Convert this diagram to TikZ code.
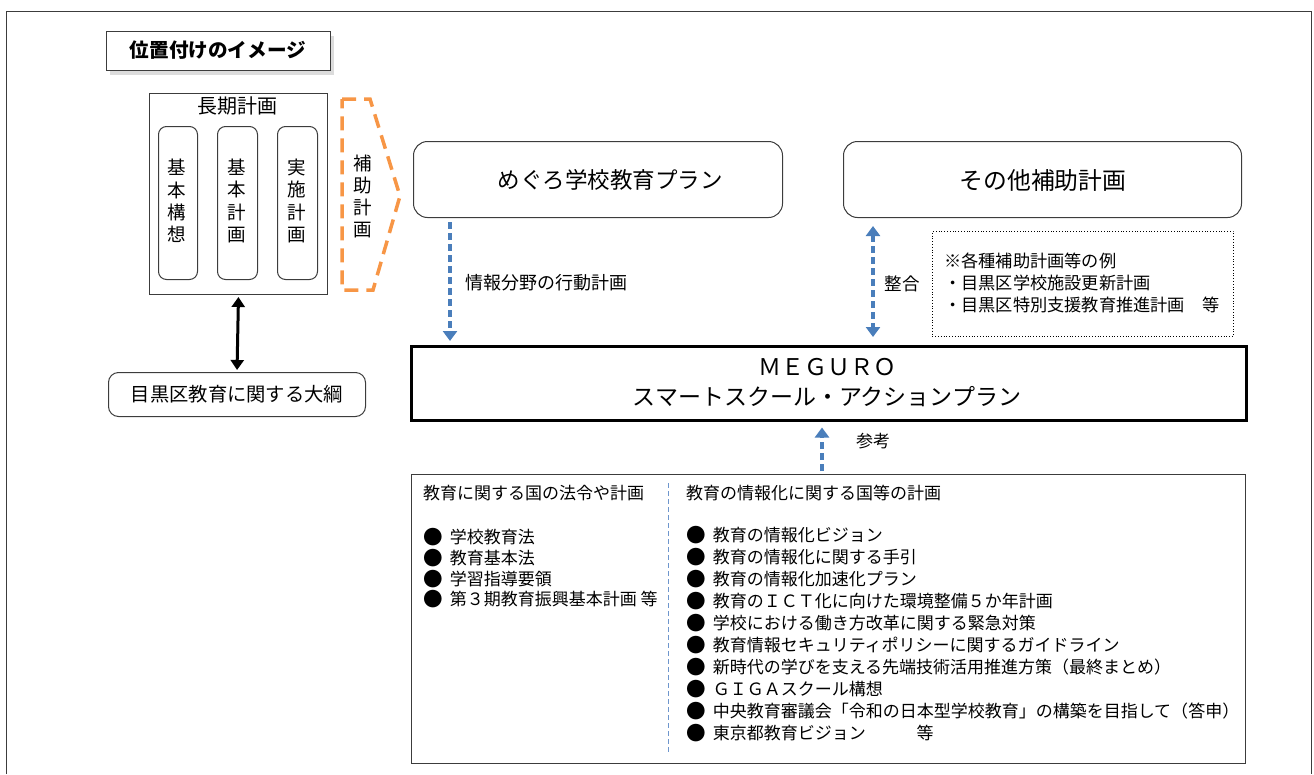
\documentclass[tikz,border=0pt]{standalone}
\usepackage{fontspec}
\setmainfont{Noto Sans CJK JP}
\usetikzlibrary{arrows.meta,shadows}
\definecolor{ablue}{RGB}{74,126,187}
\definecolor{lblue}{RGB}{110,150,205}
\definecolor{borange}{RGB}{247,150,70}
\definecolor{framec}{RGB}{60,60,60}
\newcommand{\fsz}[2]{\fontsize{#1}{#2}\selectfont}
\newcommand{\blt}{\raisebox{-0.9pt}{\scalebox{1.15}{●}}}
\begin{document}
\begin{tikzpicture}[x=1pt,y=-1pt,
  box/.style={draw=framec, line width=1pt, inner sep=0pt, anchor=north west},
  rbox/.style={box, rounded corners=12pt},
  txt/.style={inner sep=0pt},
  barrow/.style={ablue, line width=4pt, dash pattern=on 7pt off 4pt},
  btip/.style={-{Triangle[width=14pt,length=10pt]}},
  bbtip/.style={{Triangle[width=14pt,length=10pt]}-{Triangle[width=14pt,length=10pt]}},
  item/.style={txt, anchor=west, font=\fsz{17}{20}},
]
\useasboundingbox (0,0) rectangle (1314,774);
% outer frame
\draw[framec, line width=1pt] (6,774) -- (6,11) -- (1311,11) -- (1311,774);

% title
\node[box, minimum width=224pt, minimum height=39pt, fill=white,
  drop shadow={shadow xshift=3pt, shadow yshift=-4pt, fill=gray!55}] (title) at (106,31) {};
\node[txt, font=\fsz{19.6}{22}\bfseries] (titlet) at (218,50) {位置付けのイメージ};

% long-term plan
\node[box, minimum width=178pt, minimum height=201pt] (long) at (149,93) {};
\node[txt, font=\fsz{20}{22}] (longt) at (237,106) {長期計画};
\node[rbox, rounded corners=8pt, minimum width=39pt, minimum height=153pt] (k1) at (158,126) {};
\node[rbox, rounded corners=8pt, minimum width=40pt, minimum height=153pt] (k2) at (217,126) {};
\node[rbox, rounded corners=8pt, minimum width=40pt, minimum height=153pt] (k3) at (277,126) {};
\node[txt, font=\fsz{18.5}{22.4}, align=center] (k1t) at (177,201) {基\\本\\構\\想};
\node[txt, font=\fsz{18.5}{22.4}, align=center] (k2t) at (237,201) {基\\本\\計\\画};
\node[txt, font=\fsz{18.5}{22.4}, align=center] (k3t) at (297,201) {実\\施\\計\\画};

% orange bracket
\draw[borange, line width=3.5pt, dash pattern=on 14pt off 8pt, line join=miter]
  (342,99) -- (370,99) -- (400,196) -- (373,290) -- (342,290) -- cycle;
\node[txt, font=\fsz{18.5}{22}, align=center] (hojo) at (363,196) {補\\助\\計\\画};

% outline
\node[rbox, rounded corners=10pt, minimum width=257pt, minimum height=44pt] (taikou) at (108,372) {};
\node[txt, font=\fsz{19.3}{22}] (taikout) at (237,394) {目黒区教育に関する大綱};
\draw[black, line width=3pt, {Triangle[width=13pt,length=10pt]}-{Triangle[width=13pt,length=10pt]},
  shorten <=2pt, shorten >=2pt] (long.south) -- (taikou.north);

% top plans
\node[rbox, rounded corners=14pt, minimum width=369pt, minimum height=76pt] (plan) at (413,141) {};
\node[txt, font=\fsz{22.5}{24}] (plant) at (610,180) {めぐろ学校教育プラン};
\node[rbox, rounded corners=14pt, minimum width=398pt, minimum height=76pt] (other) at (843,141) {};
\node[txt, font=\fsz{23.8}{26}] (othert) at (1043,180) {その他補助計画};

% note box
\node[box, draw=black, line width=0.8pt, dotted, minimum width=301pt, minimum height=105pt] (note) at (932,231) {};
\node[txt, anchor=west, font=\fsz{17.2}{19}] (n1) at (944,261) {※各種補助計画等の例};
\node[txt, anchor=west, font=\fsz{17.2}{19}] (n2) at (944,283) {・目黒区学校施設更新計画};
\node[txt, anchor=west, font=\fsz{17.2}{19}] (n3) at (944,305) {・目黒区特別支援教育推進計画　等};

% MEGURO
\node[box, draw=black, line width=2.5pt, minimum width=835pt, minimum height=74pt] (mg) at (410,345) {};
\node[txt, font=\fsz{23}{25}] (mg1) at (827,367) {ＭＥＧＵＲＯ};
\node[txt, font=\fsz{23}{25}] (mg2) at (827,397) {スマートスクール・アクションプラン};

% arrows
\draw[barrow, btip] ([xshift=37pt,yshift=-4pt]plan.south west) -- ([xshift=40pt,yshift=4pt]mg.north west);
\node[txt, font=\fsz{18}{20}] (a1t) at (546,283) {情報分野の行動計画};
\draw[barrow, bbtip] ([xshift=30pt,yshift=-8pt]other.south west) -- ([xshift=463pt,yshift=8pt]mg.north west);
\node[txt, font=\fsz{17.5}{20}] (a2t) at (902,284) {整合};

% references
\node[box, minimum width=834pt, minimum height=289pt] (refs) at (411,474) {};
\draw[barrow, btip] ([xshift=411pt,yshift=3pt]refs.north west) -- ([xshift=412pt,yshift=-6pt]mg.south west);
\node[txt, font=\fsz{17}{20}] (a3t) at (873,441) {参考};
\draw[lblue, line width=0.8pt, dash pattern=on 5pt off 3pt] ([xshift=257pt,yshift=-9pt]refs.north west) -- ([xshift=257pt,yshift=12pt]refs.south west);

\node[item] (lh) at (423,493) {教育に関する国の法令や計画};
\foreach \t [count=\i from 0] in {学校教育法,教育基本法,学習指導要領,第３期教育振興基本計画 等}
  \node[item] (l\i) at (423,537+20.8*\i) {\blt\hspace{7pt}\t};

\node[item] (rh) at (686,493) {教育の情報化に関する国等の計画};
\foreach \t [count=\i from 0] in {教育の情報化ビジョン,教育の情報化に関する手引,教育の情報化加速化プラン,
  教育のＩＣＴ化に向けた環境整備５か年計画,学校における働き方改革に関する緊急対策,
  教育情報セキュリティポリシーに関するガイドライン,新時代の学びを支える先端技術活用推進方策（最終まとめ）,
  ＧＩＧＡスクール構想,中央教育審議会「令和の日本型学校教育」の構築を目指して（答申）,
  東京都教育ビジョン\hspace{3em}等}
  \node[item] (r\i) at (686,535+22*\i) {\blt\hspace{7pt}\t};
\end{tikzpicture}
\end{document}
